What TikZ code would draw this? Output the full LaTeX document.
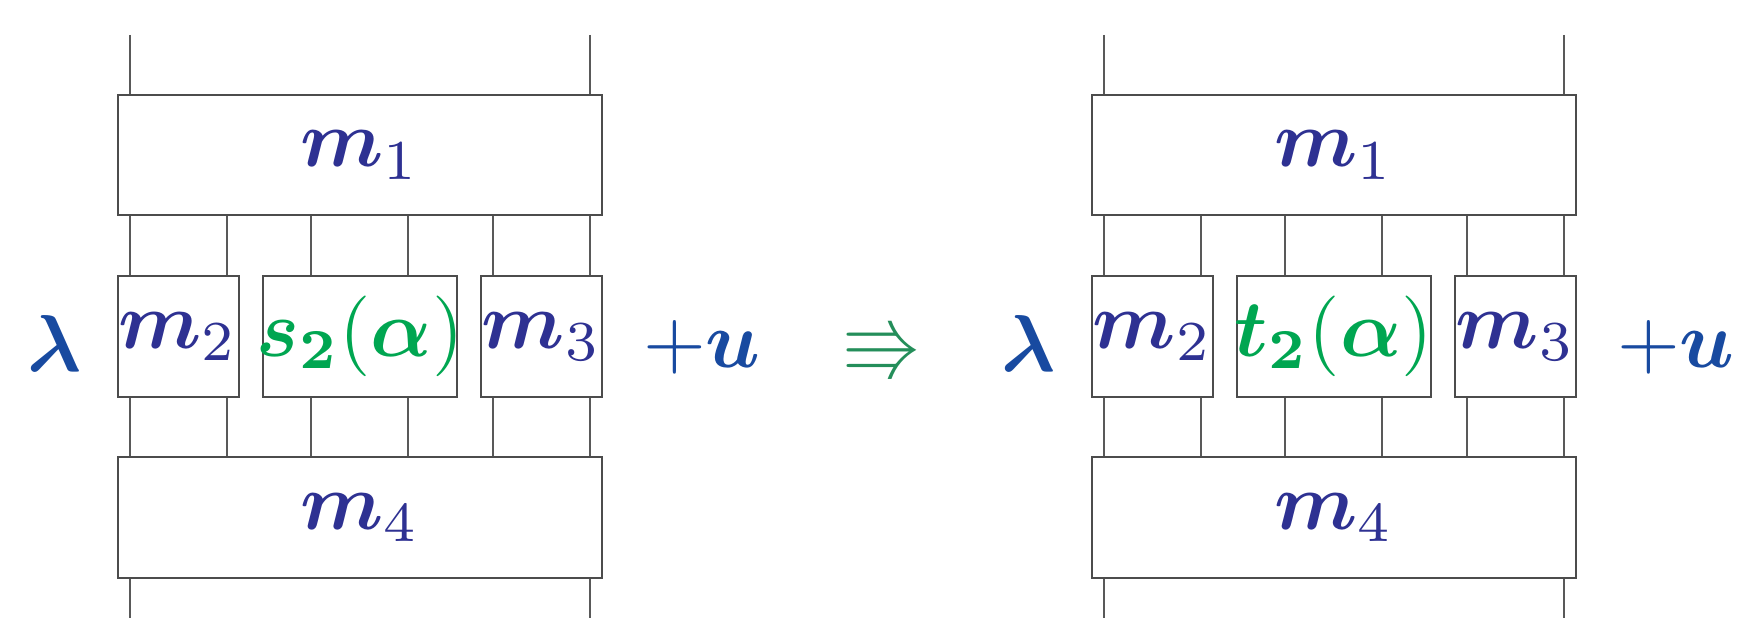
\documentclass[tikz,border=0pt]{standalone}
\usepackage{amsmath,amssymb}
\usetikzlibrary{fit}
\definecolor{mcol}{RGB}{46,49,146}
\definecolor{lcol}{RGB}{24,74,160}
\definecolor{gcol}{RGB}{0,166,81}
\definecolor{acol}{RGB}{36,142,90}
\tikzset{
  boxnode/.style={draw=black!70, line width=0.23pt, inner sep=0pt, fit={#1}},
  wire/.style={draw=black!65, line width=0.23pt},
  mlab/.style={text=mcol, inner sep=0pt},
  glab/.style={text=gcol, inner sep=0pt},
  blab/.style={text=lcol, inner sep=0pt, anchor=base},
}
\newcommand\OneDiagram[1]{%
  \node[boxnode={(118.2,94.8) (602.3,215.3)}] (M1) {};
  \node[boxnode={(118.2,275.8) (238.7,396.9)}] (M2) {};
  \node[boxnode={(263.3,275.8) (456.6,396.9)}] (S) {};
  \node[boxnode={(480.7,275.8) (602.3,396.9)}] (M3) {};
  \node[boxnode={(118.2,457.3) (602.3,577.8)}] (M4) {};
  \coordinate (top) at (0,35);
  \coordinate (bot) at (0,618);
  \coordinate (w1) at (130.3,0);
  \coordinate (w2) at (227.0,0);
  \coordinate (w3) at (311.0,0);
  \coordinate (w4) at (408.3,0);
  \coordinate (w5) at (493.2,0);
  \coordinate (w6) at (589.8,0);
  \draw[wire] (w1 |- top) -- (w1 |- M1.north);
  \draw[wire] (w6 |- top) -- (w6 |- M1.north);
  \draw[wire] (w1 |- M1.south) -- (w1 |- M2.north);
  \draw[wire] (w2 |- M1.south) -- (w2 |- M2.north);
  \draw[wire] (w3 |- M1.south) -- (w3 |- S.north);
  \draw[wire] (w4 |- M1.south) -- (w4 |- S.north);
  \draw[wire] (w5 |- M1.south) -- (w5 |- M3.north);
  \draw[wire] (w6 |- M1.south) -- (w6 |- M3.north);
  \draw[wire] (w1 |- M2.south) -- (w1 |- M4.north);
  \draw[wire] (w2 |- M2.south) -- (w2 |- M4.north);
  \draw[wire] (w3 |- S.south) -- (w3 |- M4.north);
  \draw[wire] (w4 |- S.south) -- (w4 |- M4.north);
  \draw[wire] (w5 |- M3.south) -- (w5 |- M4.north);
  \draw[wire] (w6 |- M3.south) -- (w6 |- M4.north);
  \draw[wire] (w1 |- M4.south) -- (w1 |- bot);
  \draw[wire] (w6 |- M4.south) -- (w6 |- bot);
  \node[mlab] (l1) at (M1.center) {$\boldsymbol{m}_1$};
  \node[mlab] (l2) at (M2.center) {$\boldsymbol{m}_2$};
  \node[glab] (l5) at (S.center) {$\boldsymbol{#1}_{\mathbf{2}}(\boldsymbol{\alpha})$};
  \node[mlab] (l3) at (M3.center) {$\boldsymbol{m}_3$};
  \node[mlab] (l4) at (M4.center) {$\boldsymbol{m}_4$};
  \node[blab] (lam) at (54.5,371) {$\boldsymbol{\lambda}$};
  \node[blab] (pu) at (702,367) {$+\boldsymbol{u}$};
}
\begin{document}
\begin{tikzpicture}[x=0.124pt,y=-0.124pt]
  \useasboundingbox (0,0) rectangle (1749,618);
  \begin{scope}[name prefix=A-]
    \OneDiagram{s}
  \end{scope}
  \begin{scope}[shift={(974,0)},name prefix=B-]
    \OneDiagram{t}
  \end{scope}
  \node[text=acol, inner sep=0pt] (arrow) at (883,350) {$\Rrightarrow$};
\end{tikzpicture}
\end{document}
